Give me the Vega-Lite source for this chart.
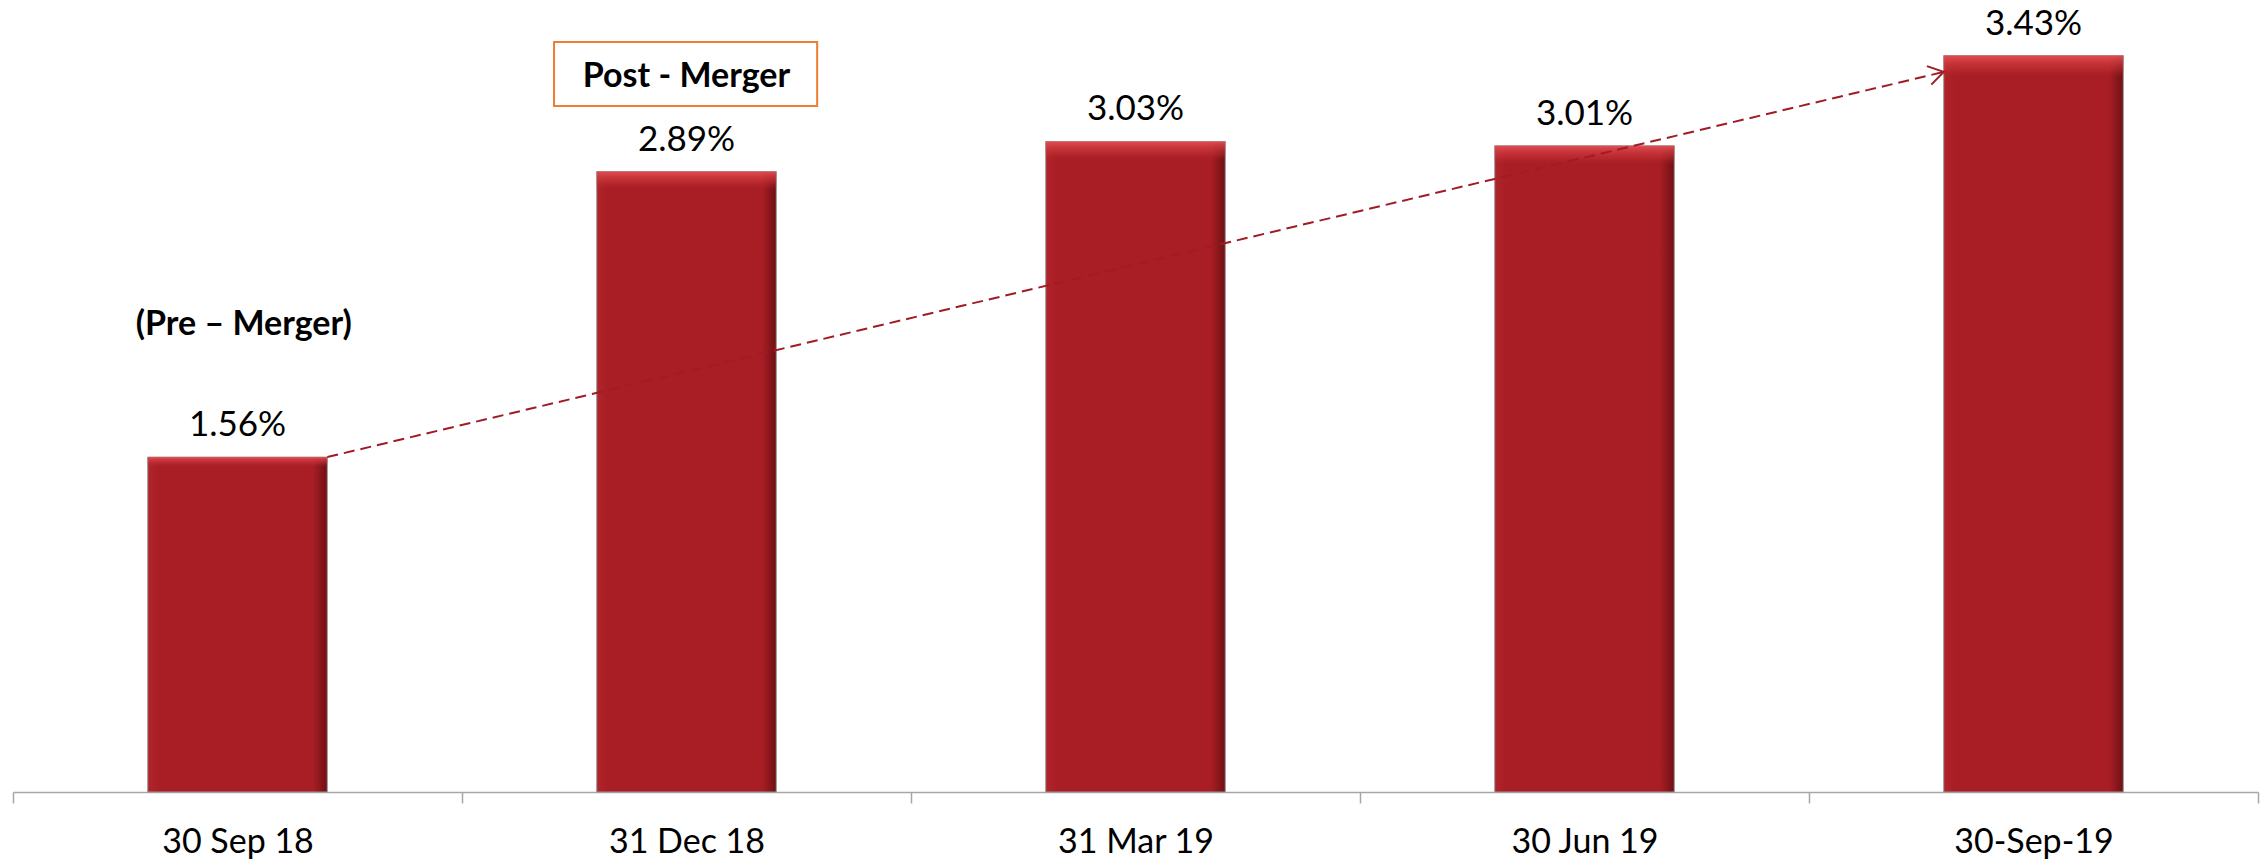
{
  "$schema": "https://vega.github.io/schema/vega-lite/v6.json",
  "width": 2245,
  "height": 792,
  "autosize": {"type": "none"},
  "padding": {"left": 13, "top": 0, "right": 7, "bottom": 71},
  "background": "white",
  "config": {"view": {"stroke": null}, "font": "Lato"},
  "datasets": {
    "bars": [
      {"period": "30 Sep 18", "ratio": 0.0156},
      {"period": "31 Dec 18", "ratio": 0.0289},
      {"period": "31 Mar 19", "ratio": 0.0303},
      {"period": "30 Jun 19", "ratio": 0.0301},
      {"period": "30-Sep-19", "ratio": 0.0343}
    ],
    "trend": [{"x": 0.7, "y": 0.0156, "x_end": 4.3, "y_end": 0.03354}],
    "box": [{"x": 1.205, "x_end": 1.791, "y": 0.03493, "y_end": 0.03195}],
    "notes": [
      {"label": "(Pre – Merger)", "x": 0.514, "y": 0.02129},
      {"label": "Post - Merger", "x": 1.5, "y": 0.03284}
    ]
  },
  "layer": [
    {
      "data": {"name": "bars"},
      "encoding": {
        "x": {
          "field": "period",
          "type": "nominal",
          "sort": null,
          "scale": {"paddingInner": 0, "paddingOuter": 0},
          "axis": {
            "title": null,
            "labelAngle": 0,
            "labelFont": "Lato",
            "labelFontSize": 34,
            "labelColor": "black",
            "labelBaseline": "alphabetic",
            "labelPadding": 49,
            "tickBand": "extent",
            "tickSize": 11,
            "tickColor": "#A6A6A6",
            "tickWidth": 1.5,
            "domainColor": "#A6A6A6",
            "domainWidth": 1.5,
            "grid": false
          }
        },
        "y": {
          "field": "ratio",
          "type": "quantitative",
          "scale": {"domain": [0, 0.03689], "nice": false},
          "axis": null
        }
      },
      "layer": [
        {
          "mark": {
            "type": "bar",
            "width": {"band": 0.4},
            "stroke": "#9a9a9a",
            "strokeWidth": 1,
            "color": {
              "gradient": "linear",
              "x1": 0, "x2": 1, "y1": 0, "y2": 0,
              "stops": [
                {"offset": 0, "color": "#B0252B"},
                {"offset": 0.06, "color": "#A81E24"},
                {"offset": 0.92, "color": "#A81E24"},
                {"offset": 1, "color": "#6E1014"}
              ]
            }
          }
        },
        {
          "mark": {
            "type": "bar",
            "width": {"band": 0.4},
            "color": {
              "gradient": "linear",
              "x1": 0, "x2": 0, "y1": 0, "y2": 1,
              "stops": [
                {"offset": 0, "color": "rgba(230,80,85,0.9)"},
                {"offset": 0.02, "color": "rgba(200,50,55,0.4)"},
                {"offset": 0.03, "color": "rgba(168,30,36,0)"},
                {"offset": 1, "color": "rgba(168,30,36,0)"}
              ]
            }
          }
        },
        {
          "mark": {
            "type": "text",
            "dy": -21,
            "baseline": "alphabetic",
            "fontSize": 35,
            "font": "Lato",
            "color": "black"
          },
          "encoding": {"text": {"field": "ratio", "format": ".2%"}}
        }
      ]
    },
    {
      "layer": [
        {
          "data": {"name": "trend"},
          "mark": {
            "type": "rule",
            "color": "#A01C25",
            "strokeWidth": 2,
            "strokeDash": [11, 6]
          },
          "encoding": {
            "x": {"field": "x", "type": "quantitative", "scale": {"domain": [0, 5], "nice": false, "zero": false}, "axis": null},
            "x2": {"field": "x_end"},
            "y": {"field": "y", "type": "quantitative", "axis": null},
            "y2": {"field": "y_end"}
          }
        },
        {
          "data": {"name": "trend"},
          "mark": {
            "type": "point",
            "shape": "M -1.5 -0.95 L 0 0 L -1.5 0.95",
            "size": 400,
            "angle": -13.4,
            "filled": false,
            "stroke": "#A01C25",
            "strokeWidth": 2,
            "opacity": 1
          },
          "encoding": {
            "x": {"field": "x_end", "type": "quantitative", "scale": {"domain": [0, 5], "nice": false, "zero": false}, "axis": null},
            "y": {"field": "y_end", "type": "quantitative", "axis": null}
          }
        },
        {
          "data": {"name": "box"},
          "mark": {"type": "rect", "fill": "white", "stroke": "#ED7D31", "strokeWidth": 2},
          "encoding": {
            "x": {"field": "x", "type": "quantitative", "scale": {"domain": [0, 5], "nice": false, "zero": false}, "axis": null},
            "x2": {"field": "x_end"},
            "y": {"field": "y", "type": "quantitative", "axis": null},
            "y2": {"field": "y_end"}
          }
        },
        {
          "data": {"name": "notes"},
          "mark": {
            "type": "text",
            "baseline": "alphabetic",
            "fontSize": 34,
            "font": "Lato",
            "fontWeight": "bold",
            "color": "black"
          },
          "encoding": {
            "x": {"field": "x", "type": "quantitative", "scale": {"domain": [0, 5], "nice": false, "zero": false}, "axis": null},
            "y": {"field": "y", "type": "quantitative", "axis": null},
            "text": {"field": "label"}
          }
        }
      ]
    }
  ],
  "resolve": {"scale": {"x": "independent"}}
}
